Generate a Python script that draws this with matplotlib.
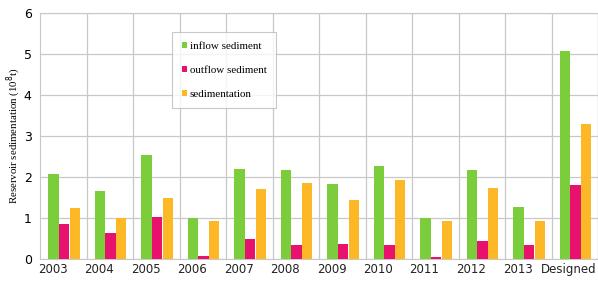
import matplotlib
matplotlib.use("Agg")
import matplotlib.pyplot as plt
import numpy as np

categories = ["2003", "2004", "2005", "2006", "2007", "2008", "2009", "2010",
              "2011", "2012", "2013", "Designed"]
inflow = [2.07, 1.65, 2.53, 1.0, 2.2, 2.18, 1.83, 2.28, 1.0, 2.18, 1.28, 5.08]
outflow = [0.85, 0.63, 1.02, 0.08, 0.5, 0.33, 0.37, 0.33, 0.05, 0.45, 0.33, 1.8]
sedimentation = [1.25, 1.0, 1.5, 0.93, 1.7, 1.85, 1.45, 1.93, 0.93, 1.73, 0.93, 3.3]

fig = plt.figure(figsize=(5.98, 2.81), dpi=100)
ax = fig.add_axes([40/598, 22/281, 558/598, 246/281])

x = np.arange(len(categories))
w = 0.22
ax.bar(x - 0.21, inflow, w, color="#7ccd3c", label="inflow sediment", zorder=3)
ax.bar(x + 0.015, outflow, w, color="#e8126e", label="outflow sediment", zorder=3)
ax.bar(x + 0.25, sedimentation, w, color="#fdb827", label="sedimentation", zorder=3)

ax.set_xlim(-0.5, len(categories) - 0.5)
ax.set_ylim(0, 6)
ax.set_yticks(range(0, 7))
ax.set_xticks(x + 0.5, minor=False)
ax.set_xticklabels([])
ax.tick_params(axis="both", length=0)
ax.tick_params(axis="y", labelsize=9, pad=6)
for i, c in enumerate(categories):
    xpos = i - 0.23 if c != "Designed" else i - 0.12
    ax.text(xpos, -0.1, c, ha="center", va="top", fontsize=8.5,
            family="DejaVu Sans", color="#222222",
            transform=ax.transData, clip_on=False)
ax.grid(True, color="#c8c8c8", linewidth=0.9, zorder=0)
for s in ax.spines.values():
    s.set_color("#c8c8c8")
fig.text(14/598, 1 - 136/281, "Reservoir sedimentation (10$^8$t)",
         family="Liberation Serif", fontsize=7.8, rotation=90,
         ha="center", va="center")

leg = ax.legend(loc="upper left", bbox_to_anchor=(132/558, 1 - 19/246),
                prop={"family": "Liberation Serif", "size": 7.9},
                frameon=True, fancybox=False, edgecolor="#bbbbbb",
                handlelength=0.5, handleheight=0.5, handletextpad=0.2,
                labelspacing=1.35, borderpad=0.9, borderaxespad=0)
leg.get_frame().set_linewidth(0.8)

fig.savefig("out.png", dpi=100)
